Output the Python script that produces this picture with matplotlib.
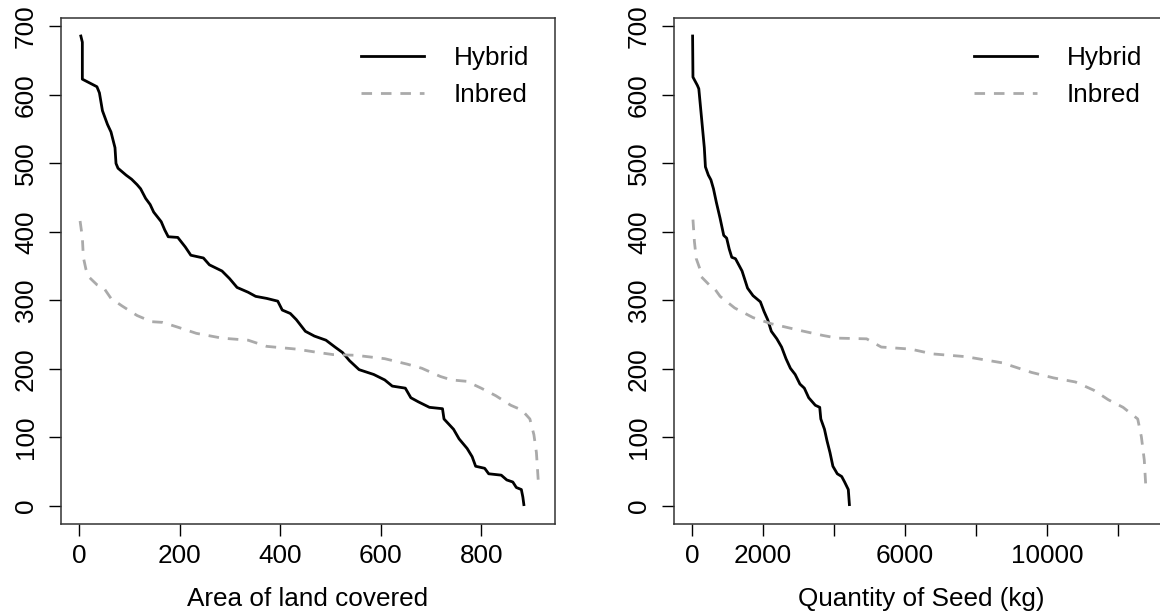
import matplotlib
matplotlib.use("Agg")
import matplotlib.pyplot as plt

plt.rcParams["font.family"] = ["Liberation Sans", "DejaVu Sans"]

# Left panel: area of land covered (x) vs count (y)
area_hybrid_x = [3, 6, 6, 35, 40, 46, 56, 63, 71, 73, 77, 93, 104, 115, 122, 132, 141,
                 148, 163, 170, 177, 196, 211, 222, 247, 259, 284, 299, 314, 336, 351,
                 373, 395, 404, 420, 432, 450, 468, 491, 509, 524, 538, 557, 586, 608,
                 623, 649, 660, 675, 697, 723, 726, 745, 756, 772, 782, 789, 807, 815,
                 840, 851, 863, 870, 880, 883, 885]
area_hybrid_y = [686, 677, 623, 612, 603, 577, 557, 546, 523, 500, 493, 483, 477, 469,
                 463, 449, 440, 429, 415, 403, 393, 392, 378, 366, 362, 352, 343, 332,
                 319, 312, 306, 303, 299, 286, 281, 272, 255, 248, 242, 232, 224, 212,
                 199, 192, 184, 175, 172, 158, 152, 144, 142, 127, 112, 98, 84, 72, 58,
                 55, 47, 45, 38, 35, 27, 24, 13, 2]
area_inbred_x = [1.5, 6, 8, 13, 18, 35, 49, 63, 85, 115, 144, 166, 196, 233, 284, 336,
                 373, 432, 476, 505, 550, 608, 653, 682, 719, 741, 771, 800, 829, 859,
                 881, 897, 905, 910, 914]
area_inbred_y = [416, 392, 363, 346, 335, 323, 318, 303, 292, 278, 269, 268, 261, 252,
                 245, 242, 233, 229, 224, 221, 220, 215, 207, 201, 189, 184, 182, 172,
                 161, 147, 140, 127, 104, 78, 33]

# Right panel: quantity of seed (kg)
seed_hybrid_x = [21, 31, 155, 196, 279, 351, 382, 464, 537, 609, 691, 795, 898, 980,
                 1053, 1125, 1228, 1414, 1569, 1723, 1930, 2033, 2136, 2239, 2394, 2528,
                 2652, 2776, 2910, 3044, 3168, 3292, 3478, 3602, 3633, 3736, 3808, 3891,
                 3973, 4097, 4221, 4303, 4407, 4438]
seed_hybrid_y = [686, 626, 614, 609, 563, 523, 495, 483, 476, 463, 443, 420, 395, 391,
                 375, 363, 361, 343, 318, 307, 298, 284, 272, 255, 244, 232, 215, 201,
                 192, 178, 172, 158, 147, 144, 127, 112, 95, 78, 58, 47, 43, 35, 24, 2]
seed_inbred_x = [31, 72, 124, 227, 258, 485, 588, 795, 1207, 1723, 2239, 3065, 3684,
                 4097, 4923, 5335, 6161, 6780, 7709, 8741, 9567, 10186, 10805, 11321,
                 11734, 12147, 12560, 12663, 12745, 12786]
seed_inbred_y = [418, 386, 361, 346, 335, 323, 321, 306, 289, 275, 266, 256, 249, 245,
                 244, 232, 229, 222, 218, 209, 195, 187, 181, 169, 155, 144, 127, 101,
                 67, 30]

y_ticks = [0, 100, 200, 300, 400, 500, 600, 700]
area_ticks = [0, 200, 400, 600, 800]
seed_ticks = [0, 2000, 4000, 6000, 8000, 10000, 12000]
seed_labels = ["0", "2000", "", "6000", "", "10000", ""]

FS = 18.8
HYB_COLOR = "black"
INB_COLOR = "#aaaaaa"
LW = 2.0

fig = plt.figure(figsize=(11.6, 6.12), dpi=100)
ax1 = fig.add_axes([61 / 1160, 88 / 612, 494 / 1160, 506 / 612])
ax2 = fig.add_axes([674 / 1160, 88 / 612, 494 / 1160, 506 / 612])


def style(ax, xlabel):
    ax.set_ylim(-26.3, 712.3)
    ax.set_yticks(y_ticks)
    ax.set_yticklabels([str(v) for v in y_ticks], rotation=90, va="center")
    ax.tick_params(axis="both", length=8.6, width=1, labelsize=FS, colors="black")
    ax.tick_params(axis="y", pad=8)
    ax.tick_params(axis="x", pad=5.5)
    for sp in ax.spines.values():
        sp.set_linewidth(1.1)
        sp.set_color("#333333")
    ax.set_xlabel(xlabel, fontsize=FS, labelpad=14)
    ax.legend(loc="upper left", bbox_to_anchor=(0.607, 0.945), frameon=False,
              fontsize=FS, handlelength=2.4, handletextpad=1.15, borderpad=0,
              borderaxespad=0, labelspacing=0.52)


ax1.plot(area_hybrid_x, area_hybrid_y, color=HYB_COLOR, lw=LW, label="Hybrid")
ax1.plot(area_inbred_x, area_inbred_y, color=INB_COLOR, lw=LW, dashes=(3.8, 3.2),
         label="Inbred")
ax1.set_xlim(-36.5, 947)
ax1.set_xticks(area_ticks)
style(ax1, "Area of land covered")

ax2.plot(seed_hybrid_x, seed_hybrid_y, color=HYB_COLOR, lw=LW, label="Hybrid")
ax2.plot(seed_inbred_x, seed_inbred_y, color=INB_COLOR, lw=LW, dashes=(3.8, 3.2),
         label="Inbred")
ax2.set_xlim(-503, 13413)
ax2.set_xticks(seed_ticks)
ax2.set_xticklabels(seed_labels)
style(ax2, "Quantity of Seed (kg)")

fig.savefig("out.png", dpi=100)
